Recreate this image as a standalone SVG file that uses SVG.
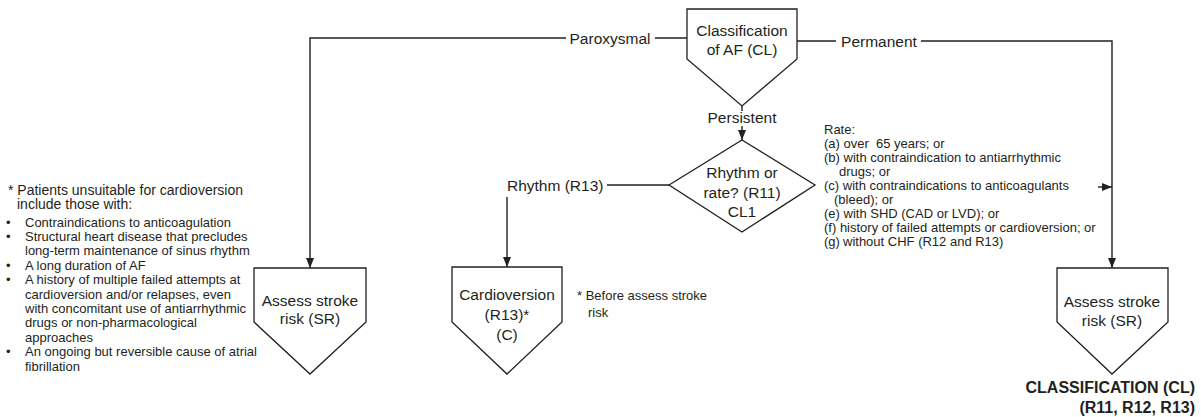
<svg xmlns="http://www.w3.org/2000/svg" width="1201" height="417" viewBox="0 0 1201 417">
<style>
text{font-family:"Liberation Sans",Arial,sans-serif;fill:#231f20}
.lbl{font-size:15.5px;text-anchor:middle}
.sm{font-size:13px}
.hd{font-size:14px}
.bold{font-size:16px;font-weight:bold;text-anchor:end}
.shape{fill:#fff;stroke:#231f20;stroke-width:1.3}
.conn{fill:none;stroke:#231f20;stroke-width:1.4}
</style>
<defs>
<marker id="arr" markerUnits="userSpaceOnUse" viewBox="0 0 10 8" refX="10" refY="4" markerWidth="10" markerHeight="8" orient="auto">
<path d="M0,0 L10,4 L0,8 Z" fill="#231f20"/>
</marker>
</defs>
<rect width="1201" height="417" fill="#fff"/>
<g id="connectors">
<path class="conn" d="M687,38 H655 M566,38 H310 V268" marker-end="url(#arr)"/>
<path class="conn" d="M797,41 H836 M921,41 H1112 V268" marker-end="url(#arr)"/>
<path class="conn" d="M742,106 V111"/>
<path class="conn" d="M742,126 V140" marker-end="url(#arr)"/>
<path class="conn" d="M669,185 H607"/>
<path class="conn" d="M507,197 V267" marker-end="url(#arr)"/>
<path class="conn" d="M1098,187 H1112" marker-end="url(#arr)"/>
<text class="lbl" x="610" y="44">Paroxysmal</text>
<text class="lbl" x="879" y="47">Permanent</text>
<text class="lbl" x="742" y="123">Persistent</text>
<text class="lbl" x="507" y="191" style="text-anchor:start">Rhythm (R13)</text>
</g>
<g id="classification">
<polygon class="shape" points="687,9 797,9 797,59 742,106 687,59"/>
<text class="lbl" x="742" y="36">Classification</text>
<text class="lbl" x="742" y="55">of AF (CL)</text>
</g>
<g id="rhythm-or-rate">
<polygon class="shape" points="669,185 742,140 815,185 742,232"/>
<text class="lbl" x="742" y="178">Rhythm or</text>
<text class="lbl" x="742" y="198">rate? (R11)</text>
<text class="lbl" x="742" y="217">CL1</text>
</g>
<g id="assess-left">
<polygon class="shape" points="254,268 366,268 366,322 310,374 254,322"/>
<text class="lbl" x="310" y="306">Assess stroke</text>
<text class="lbl" x="310" y="324">risk (SR)</text>
</g>
<g id="cardioversion">
<polygon class="shape" points="452,267 562,267 562,322 507,374 452,322"/>
<text class="lbl" x="507" y="300">Cardioversion</text>
<text class="lbl" x="507" y="320">(R13)*</text>
<text class="lbl" x="507" y="340">(C)</text>
</g>
<g id="assess-right">
<polygon class="shape" points="1057,268 1168,268 1168,322 1112,374 1057,322"/>
<text class="lbl" x="1112" y="307">Assess stroke</text>
<text class="lbl" x="1112" y="326">risk (SR)</text>
</g>
<g id="rate-note">
<text class="sm" x="824" y="133.5">Rate:</text>
<text class="sm" x="824" y="147.5" xml:space="preserve">(a) over  65 years; or</text>
<text class="sm" x="824" y="161.5">(b) with contraindication to antiarrhythmic</text>
<text class="sm" x="839" y="175.5">drugs; or</text>
<text class="sm" x="824" y="189.5">(c) with contraindications to anticoagulants</text>
<text class="sm" x="834" y="203.5">(bleed); or</text>
<text class="sm" x="824" y="217.5">(e) with SHD (CAD or LVD); or</text>
<text class="sm" x="824" y="231.5">(f) history of failed attempts or cardioversion; or</text>
<text class="sm" x="824" y="245.5">(g)<tspan x="843">without CHF (R12 and R13)</tspan></text>
</g>
<g id="before-note">
<text class="sm" x="577" y="300">* Before assess stroke</text>
<text class="sm" x="588" y="317">risk</text>
</g>
<g id="unsuitable-note">
<text class="hd" x="8" y="194.5">* Patients unsuitable for cardioversion</text>
<text class="hd" x="17" y="208.5">include those with:</text>
<g class="sm">
<text class="sm" x="6" y="226.5">•</text>
<text class="sm" x="25" y="226.5">Contraindications to anticoagulation</text>
<text class="sm" x="6" y="240.9">•</text>
<text class="sm" x="25" y="240.9">Structural heart disease that precludes</text>
<text class="sm" x="25" y="255.3">long-term maintenance of sinus rhythm</text>
<text class="sm" x="6" y="269.7">•</text>
<text class="sm" x="25" y="269.7">A long duration of AF</text>
<text class="sm" x="6" y="284.1">•</text>
<text class="sm" x="25" y="284.1">A history of multiple failed attempts at</text>
<text class="sm" x="25" y="298.5">cardioversion and/or relapses, even</text>
<text class="sm" x="25" y="312.9">with concomitant use of antiarrhythmic</text>
<text class="sm" x="25" y="327.3">drugs or non-pharmacological</text>
<text class="sm" x="25" y="341.7">approaches</text>
<text class="sm" x="6" y="356.1">•</text>
<text class="sm" x="25" y="356.1">An ongoing but reversible cause of atrial</text>
<text class="sm" x="25" y="370.5">fibrillation</text>
</g>
</g>
<g id="title">
<text class="bold" x="1195" y="393">CLASSIFICATION (CL)</text>
<text class="bold" x="1195" y="413">(R11, R12, R13)</text>
</g>
</svg>
